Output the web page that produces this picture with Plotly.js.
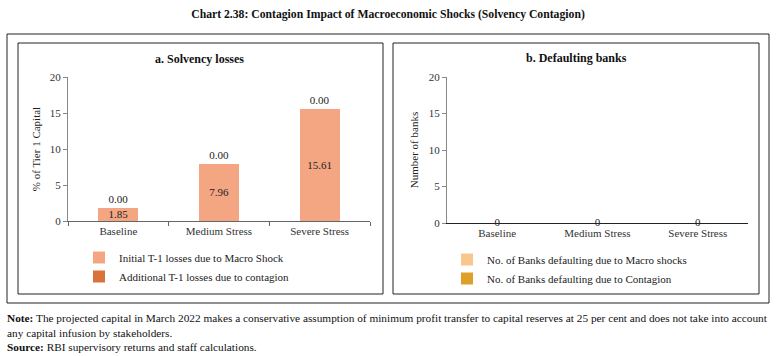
<!DOCTYPE html>
<html>
<head>
<meta charset="utf-8">
<script src="https://cdn.plot.ly/plotly-3.0.1.min.js"></script>
<style>html,body{margin:0;padding:0;background:#fff;}#chart{width:776px;height:356px;}</style>
</head>
<body>
<div id="chart"></div>
<script>
// ---- data ----
const categories = ["Baseline", "Medium Stress", "Severe Stress"];
const initialLosses = [1.85, 7.96, 15.61];
const contagionLosses = [0, 0, 0];
const banksMacro = [0, 0, 0];
const banksContagion = [0, 0, 0];
const yTicks = [0, 5, 10, 15, 20];

const W = 776, H = 356;
const px = v => v / W;
const py = v => 1 - v / H;
const FONT = "Liberation Serif, DejaVu Serif, serif";

const traces = [
  {
    type: "bar", x: categories, y: initialLosses, name: "Initial T-1 losses due to Macro Shock",
    marker: {color: "#F4A683"}, xaxis: "x", yaxis: "y",
    text: initialLosses.map(v => v.toFixed(2)), textposition: "inside", insidetextanchor: "middle",
    constraintext: "none", textfont: {family: FONT, size: 11, color: "#222"}, legend: "legend", hoverinfo: "skip"
  },
  {
    type: "bar", x: categories, y: contagionLosses, name: "Additional T-1 losses due to contagion",
    marker: {color: "#D9733A"}, xaxis: "x", yaxis: "y",
    text: contagionLosses.map(v => v.toFixed(2)), textposition: "outside", cliponaxis: false,
    constraintext: "none", textfont: {family: FONT, size: 11, color: "#222"}, legend: "legend", hoverinfo: "skip"
  },
  {
    type: "bar", x: categories, y: banksMacro, name: "No. of Banks defaulting due to Macro shocks",
    marker: {color: "#F9C68E"}, xaxis: "x2", yaxis: "y2", legend: "legend2", hoverinfo: "skip"
  },
  {
    type: "bar", x: categories, y: banksContagion, name: "No. of Banks defaulting due to Contagion",
    marker: {color: "#DFA02A"}, xaxis: "x2", yaxis: "y2", legend: "legend2", hoverinfo: "skip"
  },
  {
    type: "scatter", mode: "text", x: categories, y: banksContagion, text: banksContagion.map(String),
    textposition: "middle center", cliponaxis: false, showlegend: false,
    textfont: {family: FONT, size: 11, color: "#222"}, xaxis: "x2", yaxis: "y2", hoverinfo: "skip"
  }
];

const axisFont = {family: FONT, size: 11, color: "#333"};
const yCommon = {
  range: [0, 20], tickvals: yTicks, ticks: "outside", ticklen: 4, tickcolor: "#888",
  showline: true, linecolor: "#888", linewidth: 1, showgrid: false, zeroline: false,
  tickfont: axisFont, fixedrange: true
};
const xCommon = {
  type: "category", showline: true, linewidth: 1, showgrid: false, zeroline: false,
  tickfont: axisFont, fixedrange: true
};

const box = (x0, y0, x1, y1, w) => ({
  type: "rect", xref: "paper", yref: "paper", x0: px(x0), x1: px(x1), y0: py(y1), y1: py(y0),
  line: {color: "#222", width: w || 1}, fillcolor: "rgba(0,0,0,0)"
});

const layout = {
  width: W, height: H, margin: {l: 0, r: 0, t: 0, b: 0},
  paper_bgcolor: "#fff", plot_bgcolor: "#fff",
  barmode: "stack", bargap: 0.6,
  font: {family: FONT, size: 11, color: "#222"},
  title: {
    text: "<b>Chart 2.38: Contagion Impact of Macroeconomic Shocks (Solvency Contagion)</b>",
    x: 0.5, xanchor: "center", y: py(14), yanchor: "middle", yref: "paper",
    font: {family: FONT, size: 11.7, color: "#111"}
  },
  xaxis: Object.assign({}, xCommon, {domain: [px(68), px(370)], anchor: "y",
    linecolor: "#666", ticks: "outside", tickson: "boundaries", ticklen: 4, tickcolor: "#666"}),
  yaxis: Object.assign({}, yCommon, {domain: [py(221), py(77)], anchor: "x",
    title: {text: "% of Tier 1 Capital", font: {family: FONT, size: 11, color: "#222"}, standoff: 6}}),
  xaxis2: Object.assign({}, xCommon, {domain: [px(447), px(748)], anchor: "y2", linecolor: "#222", ticks: ""}),
  yaxis2: Object.assign({}, yCommon, {domain: [py(223), py(77)], anchor: "x2",
    title: {text: "Number of banks", font: {family: FONT, size: 11, color: "#222"}, standoff: 7}}),
  legend: {
    x: px(79), y: py(243), xanchor: "left", yanchor: "top", orientation: "v",
    font: {family: FONT, size: 11, color: "#222"}, bgcolor: "rgba(0,0,0,0)", itemwidth: 30, traceorder: "normal"
  },
  legend2: {
    x: px(447), y: py(245), xanchor: "left", yanchor: "top", orientation: "v",
    font: {family: FONT, size: 11, color: "#222"}, bgcolor: "rgba(0,0,0,0)", itemwidth: 30, traceorder: "normal"
  },
  shapes: [
    box(7, 34, 769, 303, 1),
    box(18, 43, 383, 294, 1),
    box(393, 43, 759, 294, 1)
  ],
  annotations: [
    {text: "<b>a. Solvency losses</b>", xref: "paper", yref: "paper", x: px(200), y: py(59),
     xanchor: "center", yanchor: "middle", showarrow: false, font: {family: FONT, size: 12, color: "#111"}},
    {text: "<b>b. Defaulting banks</b>", xref: "paper", yref: "paper", x: px(576), y: py(58),
     xanchor: "center", yanchor: "middle", showarrow: false, font: {family: FONT, size: 12, color: "#111"}},
    {text: "<b>Note:</b> The projected capital in March 2022 makes a conservative assumption of minimum profit transfer to capital reserves at 25 per cent and does not take into account<br>any capital infusion by stakeholders.<br><b>Source:</b> RBI supervisory returns and staff calculations.",
     xref: "paper", yref: "paper", x: px(5), y: py(310), xanchor: "left", yanchor: "top", align: "left",
     showarrow: false, font: {family: FONT, size: 11.3, color: "#111"}}
  ]
};

Plotly.newPlot("chart", traces, layout, {displayModeBar: false, staticPlot: true});
</script>
</body>
</html>
